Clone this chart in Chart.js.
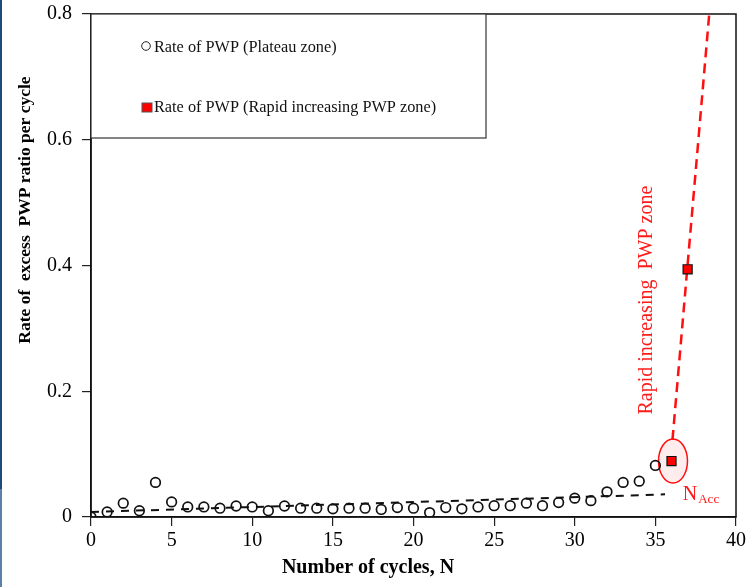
<!DOCTYPE html>
<html>
<head>
<meta charset="utf-8">
<script src="https://cdn.jsdelivr.net/npm/chart.js@4.4.1/dist/chart.umd.min.js"></script>
<style>
html, body { margin: 0; padding: 0; background: #fff; }
#wrap { width: 749px; height: 587px; }
</style>
</head>
<body>
<div id="wrap"><canvas id="pwpChart" width="749" height="587"></canvas></div>
<script>
// Data
const plateauCycles = [0, 1, 2, 3, 4, 5, 6, 7, 8, 9, 10, 11, 12, 13, 14, 15, 16, 17,
    18, 19, 20, 21, 22, 23, 24, 25, 26, 27, 28, 29, 30, 31, 32, 33, 34, 35];
const plateauRates = [0, 0.008, 0.022, 0.010, 0.055, 0.024, 0.016, 0.016, 0.014, 0.0175,
    0.016, 0.010, 0.0175, 0.014, 0.014, 0.013, 0.014, 0.014, 0.012, 0.015, 0.014, 0.007,
    0.015, 0.013, 0.016, 0.018, 0.018, 0.022, 0.018, 0.023, 0.030, 0.026, 0.040, 0.055,
    0.057, 0.082];
const rapidCycles = [36, 37];
const rapidRates = [0.089, 0.394];
const trendCycles = [0, 35.6];
const trendRates = [0.008, 0.036];
const accelCycles = [36.06, 38.34];
const accelRates = [0.1225, 0.8];
const xTickValues = [0, 5, 10, 15, 20, 25, 30, 35, 40];
const yTickValues = [0, 0.2, 0.4, 0.6, 0.8];

const SERIF = "'Liberation Serif', 'Times New Roman', serif";

function toPoints(xs, ys) {
    return xs.map((x, i) => ({ x: x, y: ys[i] }));
}

// Background, frame, legend box and red notes
const figureExtras = {
    id: 'figureExtras',
    beforeDraw(chart) {
        const ctx = chart.ctx;
        ctx.save();
        ctx.fillStyle = '#fff';
        ctx.fillRect(0, 0, chart.width, chart.height);
        ctx.fillStyle = '#1d4a7a';
        ctx.fillRect(0, 0, 2, 489);
        ctx.fillStyle = '#5b82a6';
        ctx.fillRect(0, 489, 2, chart.height - 489);
        ctx.restore();
    },
    beforeDatasetsDraw(chart) {
        const ctx = chart.ctx;
        const sx = chart.scales.x, sy = chart.scales.y;
        // ellipse round the onset point
        const cx = sx.getPixelForValue(rapidCycles[0]) + 1.5;
        const cy = sy.getPixelForValue(rapidRates[0]);
        ctx.save();
        ctx.beginPath();
        ctx.ellipse(cx, cy, 14.5, 22, 0, 0, Math.PI * 2);
        ctx.fillStyle = 'rgba(255, 0, 0, 0.07)';
        ctx.fill();
        ctx.strokeStyle = '#ff1010';
        ctx.lineWidth = 1.5;
        ctx.stroke();
        ctx.restore();
    },
    afterDatasetsDraw(chart) {
        const ctx = chart.ctx;
        const area = chart.chartArea;
        const sx = chart.scales.x, sy = chart.scales.y;
        ctx.save();

        // frame
        ctx.strokeStyle = '#111';
        ctx.lineWidth = 1.5;
        ctx.strokeRect(area.left, area.top, area.right - area.left, area.bottom - area.top);

        // legend box
        const lx = area.left, ly = area.top, lw = 395, lh = 124;
        ctx.fillStyle = '#fff';
        ctx.fillRect(lx, ly, lw, lh);
        ctx.strokeStyle = '#333';
        ctx.lineWidth = 1.2;
        ctx.strokeRect(lx, ly, lw, lh);

        ctx.font = '16.3px ' + SERIF;
        ctx.fillStyle = '#111';
        ctx.textBaseline = 'alphabetic';
        ctx.textAlign = 'left';
        ctx.beginPath();
        ctx.arc(lx + 55, ly + 32, 4.3, 0, Math.PI * 2);
        ctx.strokeStyle = '#222';
        ctx.lineWidth = 1;
        ctx.stroke();
        ctx.fillText(chart.data.datasets[0].label, lx + 63, ly + 38);

        ctx.fillStyle = '#ff0000';
        ctx.fillRect(lx + 51, ly + 89, 10, 9);
        ctx.strokeStyle = '#555';
        ctx.strokeRect(lx + 51, ly + 89, 10, 9);
        ctx.fillStyle = '#111';
        ctx.fillText(chart.data.datasets[1].label, lx + 63, ly + 98);

        // N_Acc
        ctx.fillStyle = '#ff1a1a';
        const nx = sx.getPixelForValue(36.7), ny = sy.getPixelForValue(0.027);
        ctx.font = '20px ' + SERIF;
        ctx.fillText('N', nx, ny);
        const nw = ctx.measureText('N').width;
        ctx.font = '13px ' + SERIF;
        ctx.fillText('Acc', nx + nw + 1, ny + 3);

        // rotated zone label
        ctx.translate(sx.getPixelForValue(34.8), sy.getPixelForValue(0.345));
        ctx.rotate(-Math.PI / 2);
        ctx.font = '20px ' + SERIF;
        ctx.textAlign = 'center';
        ctx.fillText('Rapid increasing  PWP zone', 0, 0);
        ctx.restore();
    },
    afterDraw(chart) {
        const ctx = chart.ctx;
        ctx.save();
        ctx.fillStyle = '#000';
        ctx.textAlign = 'center';
        ctx.textBaseline = 'alphabetic';
        ctx.font = 'bold 20px ' + SERIF;
        ctx.fillText('Number of cycles, N', 368, 573);
        ctx.translate(30, 210);
        ctx.rotate(-Math.PI / 2);
        ctx.font = 'bold 17.5px ' + SERIF;
        ctx.fillText('Rate of  excess  PWP ratio per cycle', 0, 0);
        ctx.restore();
    }
};

const ctx = document.getElementById('pwpChart').getContext('2d');
new Chart(ctx, {
    type: 'scatter',
    data: {
        datasets: [{
            label: 'Rate of PWP (Plateau zone)',
            data: toPoints(plateauCycles, plateauRates),
            pointStyle: 'circle',
            pointRadius: 4.8,
            borderColor: '#111',
            backgroundColor: 'rgba(255,255,255,0)',
            borderWidth: 1.7,
            order: 2
        }, {
            label: 'Rate of PWP (Rapid increasing PWP zone)',
            data: toPoints(rapidCycles, rapidRates),
            pointStyle: 'rect',
            pointRadius: 6.4,
            borderColor: '#111',
            backgroundColor: '#ff0000',
            borderWidth: 1.2,
            order: 1
        }, {
            label: 'trend',
            type: 'line',
            data: toPoints(trendCycles, trendRates),
            borderColor: '#111',
            borderWidth: 2,
            borderDash: [8, 7],
            pointRadius: 0,
            fill: false,
            order: 3
        }, {
            label: 'accel',
            type: 'line',
            data: toPoints(accelCycles, accelRates),
            borderColor: '#ff1010',
            borderWidth: 2.5,
            borderDash: [10, 6],
            pointRadius: 0,
            fill: false,
            order: 3
        }]
    },
    options: {
        responsive: false,
        animation: false,
        layout: { padding: { left: 0, right: 13, top: 14, bottom: 0 } },
        plugins: {
            legend: { display: false },
            tooltip: { enabled: false }
        },
        scales: {
            x: {
                type: 'linear',
                min: 0,
                max: 40,
                afterBuildTicks: (scale) => { scale.ticks = xTickValues.map(v => ({ value: v })); },
                afterFit: (scale) => {
                    scale.height = 70;
                    scale.paddingLeft = 0;
                    scale.paddingRight = 0;
                },
                ticks: {
                    font: { family: SERIF, size: 20 },
                    color: '#000',
                    padding: 3,
                    maxRotation: 0
                },
                grid: { drawOnChartArea: false, tickLength: 9, color: '#222', lineWidth: 1.2 },
                border: { display: true, color: '#111', width: 1.5 }
            },
            y: {
                type: 'linear',
                min: 0,
                max: 0.8,
                afterBuildTicks: (scale) => { scale.ticks = yTickValues.map(v => ({ value: v })); },
                afterFit: (scale) => {
                    scale.width = 91;
                    scale.paddingTop = 0;
                    scale.paddingBottom = 0;
                },
                ticks: {
                    font: { family: SERIF, size: 20 },
                    color: '#000',
                    padding: 10,
                    callback: (v) => String(Math.round(v * 10) / 10)
                },
                grid: { drawOnChartArea: false, tickLength: 9, color: '#222', lineWidth: 1.2 },
                border: { display: true, color: '#111', width: 1.5 }
            }
        }
    },
    plugins: [figureExtras]
});
</script>
</body>
</html>
